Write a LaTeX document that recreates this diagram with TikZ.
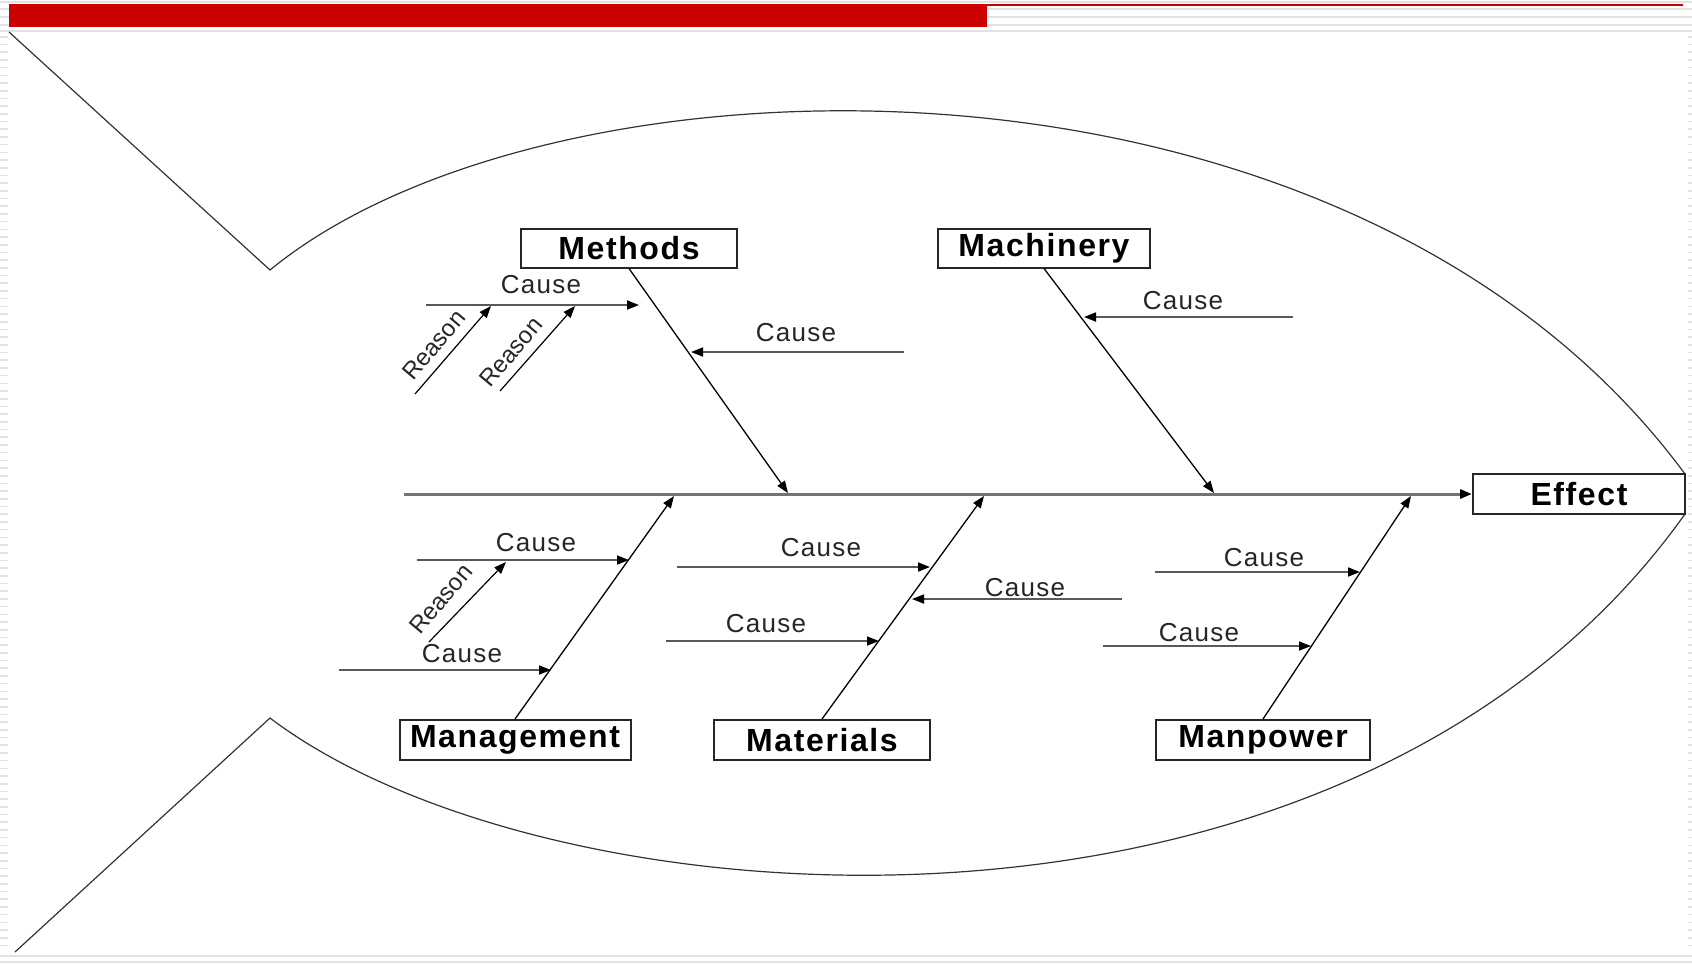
\documentclass[tikz,border=0pt]{standalone}
\usepackage{fontspec}
\setmainfont{Liberation Sans}
\newfontfamily\boxfam[LetterSpace=5]{Liberation Sans}
\newfontfamily\causefam[LetterSpace=5]{Liberation Sans}
\usetikzlibrary{arrows.meta,calc}
\definecolor{slidered}{HTML}{CC0000}
\definecolor{stripe}{HTML}{E2E2E2}
\begin{document}
\begin{tikzpicture}[x=0.5pt,y=-0.5pt,
  catbox/.style={draw=black!85, line width=1pt, fill=white, inner sep=0pt,
    minimum height=19.5pt, font=\boxfam\bfseries\fontsize{16}{18}\selectfont},
  bone/.style={draw=black, line width=0.65pt, -{Triangle[length=6pt,width=4.5pt]}},
  spineline/.style={draw=black!55, line width=1.5pt, -{Triangle[length=6pt,width=4.5pt,color=black,fill=black]}},
  causearrow/.style={draw=black!65, line width=0.9pt, -{Triangle[length=6pt,width=4.5pt,color=black,fill=black]}},
  reasonarrow/.style={draw=black, line width=0.6pt, -{Triangle[length=6pt,width=4.5pt]}},
  lbl/.style={inner sep=0pt, text=black!85, font=\causefam\fontsize{13}{15}\selectfont},
  rlbl/.style={inner sep=0pt, text=black!85, font=\fontsize{12}{14}\selectfont},
  outline/.style={draw=black!80, line width=0.6pt}
]
\useasboundingbox (0,0) rectangle (1692,966);
% slide background stripes
\foreach \y in {2,9,17,25,31} \fill[stripe] (0,\y-0.8) rectangle (1692,\y+0.8);
\foreach \y in {36,43.7,...,952} {
  \fill[stripe] (0,\y) rectangle (8,\y+1.6);
  \fill[stripe] (1688,\y) rectangle (1692,\y+1.6);
}
\fill[stripe] (0,955) rectangle (1692,957);
\fill[stripe] (0,961) rectangle (1692,963);
% red title bar
\fill[slidered] (9,4) rectangle (987,27);
\fill[slidered] (987,3.8) rectangle (1683,6.2);

% fish outline
\coordinate (tailtop) at (9,32);
\coordinate (tailbot) at (15,952);
\coordinate (nodeup) at (270,270);
\coordinate (nodelo) at (270,718);
\coordinate (headup) at (1685,474);
\coordinate (headlo) at (1685,514);
\draw[outline] (tailtop) -- (nodeup) .. controls (550,40) and (1350,20) .. (headup);
\draw[outline] (tailbot) -- (nodelo) .. controls (550,930) and (1350,985) .. (headlo);

% category boxes
\node[catbox, minimum width=108pt] (methods) at (629,248) {Methods};
\node[catbox, minimum width=106pt] (machinery) at (1044,248) {Machinery};
\node[catbox, minimum width=115.5pt, minimum height=20pt] (management) at (515,740) {Management};
\node[catbox, minimum width=108pt, minimum height=20pt] (materials) at (822,740) {Materials};
\node[catbox, minimum width=107pt, minimum height=20pt] (manpower) at (1263,740) {Manpower};
\node[catbox, minimum width=106pt, minimum height=20pt] (effect) at (1579,494) {Effect};

% spine
\coordinate (spinestart) at (404,494);
\draw[spineline] (spinestart) -- (effect.west);

% main bones
\coordinate (bmeth) at (788,493);
\coordinate (bmach) at (1214,493);
\coordinate (bmgmt) at (674,496);
\coordinate (bmat) at (984,496);
\coordinate (bman) at (1411,496);
\draw[bone] (methods.south) -- (bmeth);
\draw[bone] (machinery.south) -- (bmach);
\draw[bone] (management.north) -- (bmgmt);
\draw[bone] (materials.north) -- (bmat);
\draw[bone] (manpower.north) -- (bman);

% Methods causes
\coordinate (mc1s) at (426,305); \coordinate (mc1e) at (639,305);
\draw[causearrow] (mc1s) -- (mc1e);
\node[lbl] (mc1l) at (541,285) {Cause};
\coordinate (mc2s) at (904,352); \coordinate (mc2e) at (691,352);
\draw[causearrow] (mc2s) -- (mc2e);
\node[lbl] (mc2l) at (796,333) {Cause};
\coordinate (mr1s) at (415,394); \coordinate (mr1e) at (491,306);
\draw[reasonarrow] (mr1s) -- (mr1e);
\node[rlbl, rotate=50] (mr1l) at (434,345) {Reason};
\coordinate (mr2s) at (500,391); \coordinate (mr2e) at (575,306);
\draw[reasonarrow] (mr2s) -- (mr2e);
\node[rlbl, rotate=50] (mr2l) at (511,352) {Reason};

% Machinery cause
\coordinate (hc1s) at (1293,317); \coordinate (hc1e) at (1084,317);
\draw[causearrow] (hc1s) -- (hc1e);
\node[lbl] (hc1l) at (1183,301) {Cause};

% Management causes
\coordinate (gc1s) at (417,560); \coordinate (gc1e) at (629,560);
\draw[causearrow] (gc1s) -- (gc1e);
\node[lbl] (gc1l) at (536,543) {Cause};
\coordinate (gr1s) at (429,642); \coordinate (gr1e) at (506,562);
\draw[reasonarrow] (gr1s) -- (gr1e);
\node[rlbl, rotate=50] (gr1l) at (441,599) {Reason};
\coordinate (gc2s) at (339,670); \coordinate (gc2e) at (551,670);
\draw[causearrow] (gc2s) -- (gc2e);
\node[lbl] (gc2l) at (462,654) {Cause};

% Materials causes
\coordinate (tc1s) at (677,567); \coordinate (tc1e) at (930,567);
\draw[causearrow] (tc1s) -- (tc1e);
\node[lbl] (tc1l) at (821,548) {Cause};
\coordinate (tc2s) at (1122,599); \coordinate (tc2e) at (912,599);
\draw[causearrow] (tc2s) -- (tc2e);
\node[lbl] (tc2l) at (1025,588) {Cause};
\coordinate (tc3s) at (666,641); \coordinate (tc3e) at (879,641);
\draw[causearrow] (tc3s) -- (tc3e);
\node[lbl] (tc3l) at (766,624) {Cause};

% Manpower causes
\coordinate (pc1s) at (1155,572); \coordinate (pc1e) at (1360,572);
\draw[causearrow] (pc1s) -- (pc1e);
\node[lbl] (pc1l) at (1264,558) {Cause};
\coordinate (pc2s) at (1103,646); \coordinate (pc2e) at (1311,646);
\draw[causearrow] (pc2s) -- (pc2e);
\node[lbl] (pc2l) at (1199,633) {Cause};
\end{tikzpicture}
\end{document}
